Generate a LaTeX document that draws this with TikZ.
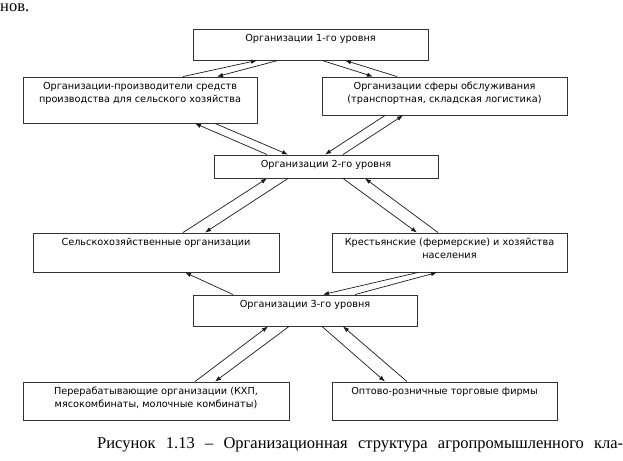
\documentclass[tikz,border=0pt]{standalone}
\usepackage{fontspec}
\setmainfont{Liberation Serif}
\newfontfamily\schemefont{DejaVu Sans}
\usetikzlibrary{arrows.meta}
\tikzset{
    RA1/.style ={rectangle, draw=black!80, line width=0.9pt, inner sep=0pt},
    TX1/.style ={anchor=north, yshift=-2pt, align=center, text=black,
                 font=\schemefont\fontsize{9.7}{13.3}\selectfont},
    AR1/.style ={-{Latex[length=6pt,width=4.4pt]}, line width=0.7pt, black!90}
}
\begin{document}
\begin{tikzpicture}[x=1pt,y=-1pt]
    \useasboundingbox (0,0) rectangle (623,460);
    % page text around the figure
    \node[anchor=base west, inner sep=0pt, font=\fontsize{16.5}{19}\selectfont] (prev) at (0,12) {нов.};
    \node[anchor=base west, inner sep=0pt, font=\fontsize{16.5}{19}\selectfont] (cap) at (97,448)
        {\makebox[526pt][s]{Рисунок 1.13 – Организационная структура агропромышленного кла-}};
    % boxes
    \node[RA1, minimum width=235pt, minimum height=31pt,
        label={[TX1]north:{Организации 1-го уровня}}] (B1) at (310.5,44.5) {};
    \node[RA1, minimum width=234pt, minimum height=46pt,
        label={[TX1]north:{Организации-производители средств\\производства для сельского хозяйства}}] (L1) at (140,100) {};
    \node[RA1, minimum width=245pt, minimum height=38pt,
        label={[TX1]north:{Организации сферы обслуживания\\(транспортная, складская логистика)}}] (R1) at (444.5,96) {};
    \node[RA1, minimum width=224pt, minimum height=23pt,
        label={[TX1]north:{Организации 2-го уровня}}] (B2) at (326,166.5) {};
    \node[RA1, minimum width=246pt, minimum height=39pt,
        label={[TX1]north:{Сельскохозяйственные организации}}] (L2) at (156,252.5) {};
    \node[RA1, minimum width=235pt, minimum height=39pt,
        label={[TX1]north:{Крестьянские (фермерские) и хозяйства\\населения}}] (R2) at (449.5,252.5) {};
    \node[RA1, minimum width=224pt, minimum height=31pt,
        label={[TX1]north:{Организации 3-го уровня}}] (B3) at (305,310.5) {};
    \node[RA1, minimum width=266pt, minimum height=38pt,
        label={[TX1]north:{Перерабатывающие организации (КХП,\\мясокомбинаты, молочные комбинаты)}}] (L3) at (156,401) {};
    \node[RA1, minimum width=225pt, minimum height=38pt,
        label={[TX1]north:{Оптово-розничные торговые фирмы}}] (R3) at (444.5,401) {};
    % level 1
    \draw[AR1] ([xshift=43pt]L1.north) -- ([xshift=-53.5pt]B1.south);
    \draw[AR1] ([xshift=-32.5pt]B1.south) -- ([xshift=77pt]L1.north);
    \draw[AR1] ([xshift=11.5pt]B1.south) -- ([xshift=-71.5pt]R1.north);
    \draw[AR1] ([xshift=-47.5pt]R1.north) -- ([xshift=34.5pt]B1.south);
    \draw[AR1] ([xshift=75pt]L1.south) -- ([xshift=-38pt]B2.north);
    \draw[AR1] ([xshift=-59pt]B2.north) -- ([xshift=55pt]L1.south);
    \draw[AR1] ([xshift=-59.5pt]R1.south) -- ([xshift=-1pt]B2.north);
    \draw[AR1] ([xshift=17pt]B2.north) -- ([xshift=-41.5pt]R1.south);
    % level 2
    \draw[AR1] ([xshift=27pt]L2.north) -- ([xshift=-59pt]B2.south);
    \draw[AR1] ([xshift=-38pt]B2.south) -- ([xshift=49pt]L2.north);
    \draw[AR1] ([xshift=17pt]B2.south) -- ([xshift=-32.5pt]R2.north);
    \draw[AR1] ([xshift=-11.5pt]R2.north) -- ([xshift=39pt]B2.south);
    \draw[AR1] ([xshift=-72pt]B3.north) -- ([xshift=29pt]L2.south);
    \draw[AR1] ([xshift=-31.5pt]R2.south) -- ([xshift=18pt]B3.north);
    \draw[AR1] ([xshift=50pt]B3.north) -- ([xshift=-12.5pt]R2.south);
    % level 3
    \draw[AR1] ([xshift=39pt]L3.north) -- ([xshift=-37pt]B3.south);
    \draw[AR1] ([xshift=-16pt]B3.south) -- ([xshift=59pt]L3.north);
    \draw[AR1] ([xshift=17pt]B3.south) -- ([xshift=-59.5pt]R3.north);
    \draw[AR1] ([xshift=-37.5pt]R3.north) -- ([xshift=38pt]B3.south);
\end{tikzpicture}
\end{document}
